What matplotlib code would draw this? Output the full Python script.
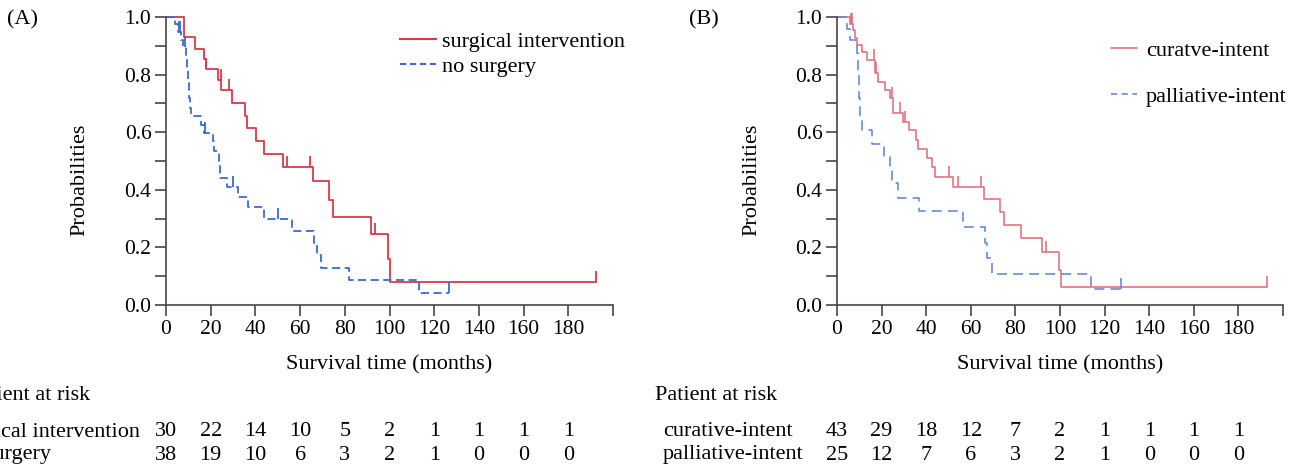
import matplotlib
matplotlib.use("Agg")
import matplotlib.pyplot as plt
import matplotlib.transforms as mtransforms
from matplotlib.lines import Line2D
import numpy as np

plt.rcParams['font.family'] = ['Liberation Serif', 'DejaVu Serif']

# ---------------- data ----------------
# Panel A
surg_t = [0, 8.2, 13.1, 17.2, 17.9, 23.4, 24.6, 29.5, 35.5, 36.2, 40.3, 43.7, 52.2,
          65.6, 73.0, 74.6, 91.7, 99.5, 100.2]
surg_s = [1.0, 0.93, 0.89, 0.855, 0.82, 0.78, 0.745, 0.70, 0.655, 0.615, 0.57, 0.525, 0.48,
          0.43, 0.365, 0.305, 0.245, 0.16, 0.08]
surg_end = 192.4
surg_cens = [17.9, 24.4, 28.0, 54.1, 64.4, 93.7, 192.4]

nosurg_t = [0, 4.2, 5.2, 6.5, 7.5, 8.9, 9.4, 9.9, 10.4, 10.9, 11.2, 15.7, 17.1, 20.9, 21.4,
            23.6, 24.2, 27.1, 32.0, 36.8, 43.7, 56.4, 66.4, 67.5, 69.4, 82.0, 113.3]
nosurg_s = [1.0, 0.974, 0.947, 0.92, 0.895, 0.865, 0.82, 0.77, 0.72, 0.685, 0.655, 0.625,
            0.597, 0.57, 0.533, 0.50, 0.44, 0.41, 0.375, 0.342, 0.30, 0.258, 0.215, 0.174,
            0.13, 0.087, 0.043]
nosurg_end = 126.8
nosurg_cens = [5.8, 6.3, 8.7, 17.5, 30.1, 50.0, 126.8]

# Panel B
cur_t = [0, 5.7, 7.2, 8.2, 8.9, 11.2, 13.4, 17.1, 18.2, 21.6, 23.8, 24.9, 29.5, 32.4, 35.4,
         36.2, 40.2, 42.5, 43.9, 52.1, 65.8, 72.9, 74.9, 82.3, 91.8, 99.7, 100.3]
cur_s = [1.0, 0.977, 0.954, 0.927, 0.904, 0.877, 0.852, 0.805, 0.776, 0.747, 0.718, 0.666,
         0.637, 0.606, 0.574, 0.541, 0.51, 0.478, 0.446, 0.411, 0.368, 0.324, 0.278, 0.231,
         0.185, 0.122, 0.061]
cur_end = 192.7
cur_cens = [6.2, 6.6, 16.5, 17.5, 24.5, 28.3, 30.5, 50.0, 54.3, 64.4, 93.8, 192.7]

pal_t = [0, 4.5, 6.0, 8.9, 9.5, 10.0, 10.5, 11.2, 15.6, 21.1, 23.8, 24.6, 27.2, 36.8, 56.5,
         66.5, 67.4, 69.5, 114.1]
pal_s = [1.0, 0.96, 0.92, 0.875, 0.80, 0.72, 0.65, 0.606, 0.558, 0.516, 0.47, 0.423, 0.371,
         0.326, 0.272, 0.214, 0.162, 0.107, 0.054]
pal_end = 127.2
pal_cens = [127.2]

xticks = [0, 20, 40, 60, 80, 100, 120, 140, 160, 180, 200]
xticklabels = ['0', '20', '40', '60', '80', '100', '120', '140', '160', '180', '']
yticks = [0.0, 0.1, 0.2, 0.3, 0.4, 0.5, 0.6, 0.7, 0.8, 0.9, 1.0]
yticklabels = ['0.0', '', '0.2', '', '0.4', '', '0.6', '', '0.8', '', '1.0']
risk_times = [0, 20, 40, 60, 80, 100, 120, 140, 160, 180]

labelsA = ['surgical intervention', 'no surgery']
labelsB = ['curatve-intent', 'palliative-intent']
riskA_names = ['surgical intervention', 'no surgery']
riskB_names = ['curative-intent', 'palliative-intent']
riskA_1 = [30, 22, 14, 10, 5, 2, 1, 1, 1, 1]
riskA_2 = [38, 19, 10, 6, 3, 2, 1, 0, 0, 0]
riskB_1 = [43, 29, 18, 12, 7, 2, 1, 1, 1, 1]
riskB_2 = [25, 12, 7, 6, 3, 2, 1, 0, 0, 0]

# ---------------- figure ----------------
W, H = 1308, 467
fig = plt.figure(figsize=(W / 100, H / 100), dpi=100)

def fx(px):
    return px / W

def fy(py):
    return 1 - py / H

axA = fig.add_axes([fx(166), fy(305), (613 - 166) / W, (305 - 17) / H])
axB = fig.add_axes([fx(837), fy(305), (1283 - 837) / W, (305 - 17) / H])

spine_col = '#4a4444'
FS = 16
TFS = 15.5


def surv_at(ts, ss, t):
    idx = np.searchsorted(ts, t, side='right') - 1
    return ss[max(idx, 0)]


def km(ax, ts, ss, end, cens, color, lw, dashes=None):
    xs = list(ts) + [end]
    ys = list(ss) + [ss[-1]]
    line, = ax.step(xs, ys, where='post', color=color, lw=lw, clip_on=False)
    if dashes is not None:
        line.set_dashes(dashes)
    cy = [surv_at(ts, ss, c) for c in cens]
    ax.plot(cens, cy, linestyle='none', marker=2, markersize=8, markeredgewidth=lw,
            color=color, clip_on=False)
    return line


def style(ax):
    ax.set_xlim(0, 200)
    ax.set_ylim(0, 1.0)
    for s in ['top', 'right']:
        ax.spines[s].set_visible(False)
    for s in ['left', 'bottom']:
        ax.spines[s].set_color(spine_col)
        ax.spines[s].set_linewidth(1.2)
    ax.set_xticks(xticks)
    ax.set_xticklabels(xticklabels)
    ax.set_yticks(yticks)
    ax.set_yticklabels(yticklabels)
    ax.tick_params(direction='out', length=8, width=1.2, color=spine_col,
                   labelsize=TFS, pad=2.5)
    ax.patch.set_visible(False)


# Panel A
redA, blueA = '#d63a4a', '#3c6bcb'
km(axA, surg_t, surg_s, surg_end, surg_cens, redA, 1.3)
km(axA, nosurg_t, nosurg_s, nosurg_end, nosurg_cens, blueA, 1.3, dashes=(4.5, 2.5))
style(axA)

# Panel B
redB, blueB = '#e06a78', '#5a82d0'
km(axB, cur_t, cur_s, cur_end, cur_cens, redB, 1.1)
km(axB, pal_t, pal_s, pal_end, pal_cens, blueB, 1.1, dashes=(6.5, 4))
style(axB)

# legends
hA = [Line2D([], [], color=redA, lw=1.5),
      Line2D([], [], color=blueA, lw=1.5, dashes=(3, 1.8))]
axA.legend(hA, labelsA, loc='upper left', bbox_to_anchor=(fx(400), fy(31)),
           bbox_transform=fig.transFigure, frameon=False, fontsize=FS,
           handlelength=1.6, handletextpad=0.3, labelspacing=0.22,
           borderpad=0, borderaxespad=0)
hB = [Line2D([], [], color=redB, lw=1.1),
      Line2D([], [], color=blueB, lw=1.1, dashes=(4, 3))]
axB.legend(hB, labelsB, loc='upper left', bbox_to_anchor=(fx(1111), fy(40)),
           bbox_transform=fig.transFigure, frameon=False, fontsize=FS,
           handlelength=1.15, handletextpad=0.42, labelspacing=1.15,
           borderpad=0, borderaxespad=0)

# labels
for lx, cx in [(80, 389), (752, 1060)]:
    fig.text(fx(lx), fy(180), 'Probabilities', rotation=90, ha='center', va='center',
             fontsize=FS)
    fig.text(fx(cx), fy(365), 'Survival time (months)', ha='center', va='center',
             fontsize=FS)

fig.text(fx(7), fy(20), '(A)', ha='left', va='center', fontsize=FS)
fig.text(fx(689), fy(20), '(B)', ha='left', va='center', fontsize=FS)

# risk tables
fig.text(fx(-32), fy(395), 'Patient at risk', ha='left', va='center', fontsize=FS)
fig.text(fx(655), fy(395), 'Patient at risk', ha='left', va='center', fontsize=FS)
fig.text(fx(-43), fy(432), riskA_names[0], ha='left', va='center', fontsize=FS)
fig.text(fx(-43), fy(455), riskA_names[1], ha='left', va='center', fontsize=FS)
fig.text(fx(663), fy(432), riskB_names[0], ha='left', va='center', fontsize=FS)
fig.text(fx(663), fy(455), riskB_names[1], ha='left', va='center', fontsize=FS)

for ax, r1, r2 in [(axA, riskA_1, riskA_2), (axB, riskB_1, riskB_2)]:
    tr = mtransforms.blended_transform_factory(ax.transData, fig.transFigure)
    for t, a, b in zip(risk_times, r1, r2):
        ax.text(t, fy(432), str(a), transform=tr, ha='center', va='center',
                fontsize=FS, clip_on=False)
        ax.text(t, fy(455), str(b), transform=tr, ha='center', va='center',
                fontsize=FS, clip_on=False)

fig.savefig('out.png', dpi=100)
